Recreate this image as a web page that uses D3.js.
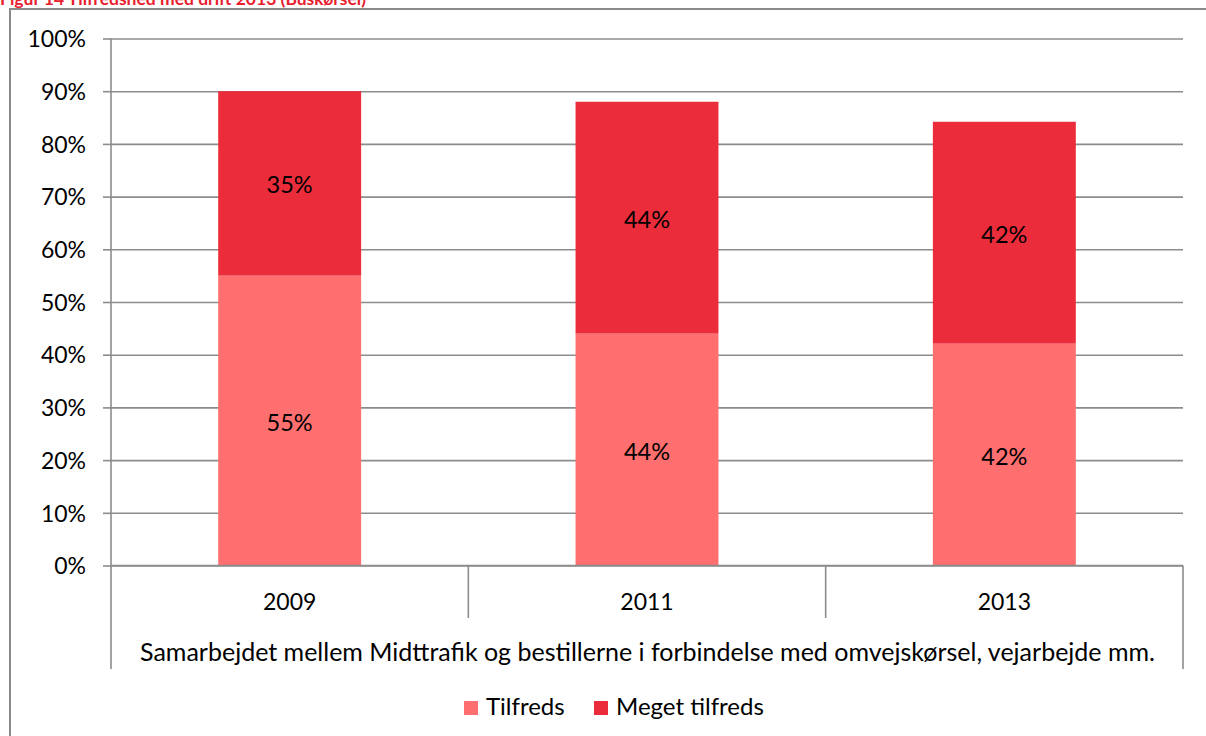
<!DOCTYPE html>
<html>
<head>
<meta charset="utf-8">
<script src="https://cdn.jsdelivr.net/npm/d3@7"></script>
<style>
  html, body { margin: 0; padding: 0; background: #fff; }
  svg { display: block; }
  text { font-family: Lato, "Noto Sans", sans-serif; fill: #000; }
</style>
</head>
<body>
<svg id="chart" width="1206" height="736"></svg>
<script>
const titleText = "Figur 14 Tilfredshed med drift 2013 (Buskørsel)";
const categories = ["2009", "2011", "2013"];
const groupLabel = "Samarbejdet mellem Midttrafik og bestillerne i forbindelse med omvejskørsel, vejarbejde mm.";
const seriesNames = ["Tilfreds", "Meget tilfreds"];
const tilfreds = [55, 44, 42.1];
const megetTilfreds = [35, 44, 42.1];
const yTicks = [0, 10, 20, 30, 40, 50, 60, 70, 80, 90, 100];
const colors = ["#ff6f6f", "#eb2d3b"];

const svg = d3.select("#chart");
const plot = { left: 111, right: 1183, top: 38.5, bottom: 565.5 };

// outer chart border
svg.append("rect")
  .attr("x", 10).attr("y", 9).attr("width", 1210).attr("height", 740)
  .attr("fill", "none").attr("stroke", "#8a8a8a").attr("stroke-width", 2);

// title (cut off at top, as in the source page)
svg.append("text")
  .attr("x", 0).attr("y", 5)
  .attr("font-size", 17.5).attr("font-weight", "bold")
  .style("fill", "#e8202e")
  .text(titleText);

const x = d3.scaleBand().domain(categories).range([plot.left, plot.right]).padding(0);
const y = d3.scaleLinear().domain([0, 100]).range([plot.bottom, plot.top]);

// gridlines
svg.append("g")
  .attr("transform", `translate(${plot.left},0)`)
  .call(d3.axisLeft(y).tickValues(yTicks).tickSize(-(plot.right - plot.left)).tickFormat(""))
  .call(g => g.select(".domain").remove())
  .call(g => g.selectAll(".tick line").attr("stroke", "#8c8c8c").attr("stroke-width", 1.6));

// y axis ticks + labels
svg.append("g")
  .attr("transform", `translate(${plot.left},0)`)
  .call(d3.axisLeft(y).tickValues(yTicks).tickSize(8).tickPadding(17).tickFormat(d => d + "%"))
  .call(g => g.select(".domain").remove())
  .call(g => g.selectAll(".tick line").attr("stroke", "#8c8c8c").attr("stroke-width", 1.6))
  .call(g => g.selectAll(".tick text").attr("font-size", 23).attr("dy", "0.36em")
    .style("font-family", "Lato, 'Noto Sans', sans-serif").style("fill", "#000"));

// stacked bars
const stackData = categories.map((c, i) => ({ cat: c, Tilfreds: tilfreds[i], "Meget tilfreds": megetTilfreds[i] }));
const stacked = d3.stack().keys(seriesNames)(stackData);
const barFrac = 0.4;

const layers = svg.append("g").selectAll("g").data(stacked).join("g")
  .attr("fill", (d, i) => colors[i]);

layers.selectAll("rect").data(d => d).join("rect")
  .attr("x", d => x(d.data.cat) + x.bandwidth() * (1 - barFrac) / 2)
  .attr("width", x.bandwidth() * barFrac)
  .attr("y", d => y(d[1]))
  .attr("height", d => y(d[0]) - y(d[1]));

// data labels
layers.selectAll("text").data(d => d).join("text")
  .attr("x", d => x(d.data.cat) + x.bandwidth() / 2)
  .attr("y", d => (y(d[0]) + y(d[1])) / 2 + 1.5)
  .attr("dy", "0.36em")
  .attr("text-anchor", "middle")
  .attr("font-size", 23.5)
  .text(d => d3.format(".0f")(d[1] - d[0]) + "%");

// axis lines
const axisG = svg.append("g").attr("stroke", "#8c8c8c").attr("stroke-width", 1.6);
axisG.append("line").attr("x1", plot.left).attr("x2", plot.left).attr("y1", plot.top).attr("y2", 669);
axisG.append("line").attr("x1", plot.left).attr("x2", plot.right).attr("y1", plot.bottom).attr("y2", plot.bottom);
axisG.append("line").attr("x1", plot.right).attr("x2", plot.right).attr("y1", plot.bottom).attr("y2", 669);
categories.slice(1).forEach(c => {
  axisG.append("line").attr("x1", x(c)).attr("x2", x(c)).attr("y1", plot.bottom).attr("y2", 618);
});

// category labels
svg.append("g").selectAll("text").data(categories).join("text")
  .attr("x", d => x(d) + x.bandwidth() / 2)
  .attr("y", 609.5)
  .attr("text-anchor", "middle")
  .attr("font-size", 23)
  .text(d => d);

svg.append("text")
  .attr("x", (plot.left + plot.right) / 2 + 0.5)
  .attr("y", 660.5)
  .attr("text-anchor", "middle")
  .attr("font-size", 25)
  .text(groupLabel);

// legend
const legendX = [464, 594];
const lg = svg.append("g").selectAll("g").data(seriesNames).join("g")
  .attr("transform", (d, i) => `translate(${legendX[i]},701)`);
lg.append("rect").attr("width", 14).attr("height", 14).attr("fill", (d, i) => colors[i]);
lg.append("text").attr("x", 22).attr("y", 13.5).attr("font-size", 24).text(d => d);
</script>
</body>
</html>
